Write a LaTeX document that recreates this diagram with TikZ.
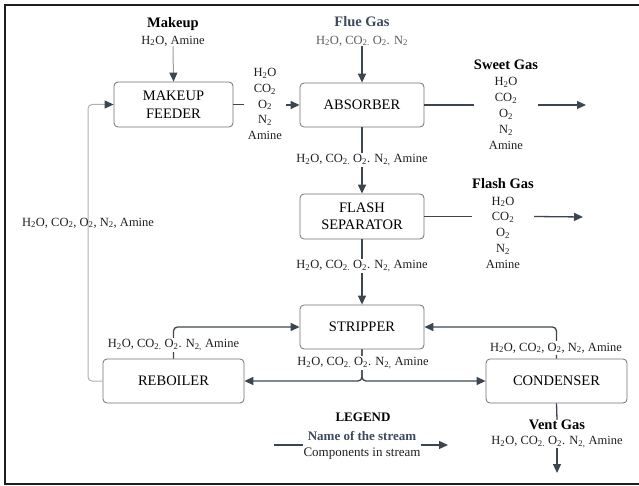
\documentclass[tikz,border=0pt]{standalone}
\usepackage{fontspec}
\setmainfont{Liberation Serif}
\usetikzlibrary{arrows.meta}
\definecolor{arr}{HTML}{3C4650}
\definecolor{boxc}{HTML}{707070}
\definecolor{slate}{HTML}{3D4A5C}
\definecolor{lgray}{HTML}{B0B0B0}
\definecolor{mgray}{HTML}{9A9A9A}
\definecolor{txtgray}{HTML}{5A5A5A}
\definecolor{framec}{HTML}{1E1E1E}
\newcommand{\sbs}[1]{\textsubscript{#1}}
\begin{document}
\begin{tikzpicture}[x=1pt,y=-1pt,
  unitbox/.style={draw=boxc, line width=0.8pt, rounded corners=4pt, align=center,
    font=\fontsize{14.5}{17.5}\selectfont, inner sep=0pt},
  tip/.style={-{Triangle[length=9pt,width=8pt,color=arr]}},
  flow/.style={draw=arr, line width=1.3pt, rounded corners=4pt, tip},
  plainline/.style={draw=arr, line width=1.3pt},
  comp/.style={font=\fontsize{12.5}{15.8}\selectfont, align=center, inner sep=0pt, text=black!88},
  stitle/.style={font=\bfseries\fontsize{14.5}{17}\selectfont, inner sep=0pt},
  lbl/.style={font=\fontsize{12.5}{15}\selectfont, inner sep=1.5pt, text=black!88},
  wlbl/.style={lbl, fill=white}]
\useasboundingbox (0,0) rectangle (639,486);
\clip (0,0) rectangle (639,486);
\draw[framec, line width=2.2pt] (650,5) -- (5,5) -- (5,484) -- (650,484);

% units
\node[unitbox, minimum width=119pt, minimum height=45pt] (feeder) at (173.5,104.5) {MAKEUP\\FEEDER};
\node[unitbox, minimum width=124pt, minimum height=44pt] (absorber) at (362,105) {ABSORBER};
\node[unitbox, minimum width=124pt, minimum height=45pt] (flash) at (362,216.5) {FLASH\\SEPARATOR};
\node[unitbox, minimum width=124pt, minimum height=44pt] (stripper) at (362,327) {STRIPPER};
\node[unitbox, minimum width=141pt, minimum height=44pt] (reboiler) at (173.5,381) {REBOILER};
\node[unitbox, minimum width=141pt, minimum height=44pt] (condenser) at (556.5,381) {CONDENSER};

% stream texts
\node[stitle] (makeupT) at (173,24) {Makeup};
\node[comp] (makeup) at (173,41) {H\sbs{2}O, Amine};
\node[stitle, text=slate] (flueT) at (362,22) {Flue Gas};
\node[comp, text=txtgray] (flue) at (362,41) {H\sbs{2}O, CO\sbs{2.} O\sbs{2}. N\sbs{2}};
\node[comp, inner xsep=4pt] (fa) at (265,104) {H\sbs{2}O\\CO\sbs{2}\\O\sbs{2}\\N\sbs{2}\\Amine};
\node[stitle] (sweetT) at (506,65) {Sweet Gas};
\node[comp] (sweet) at (506,113.4) {H\sbs{2}O\\CO\sbs{2}\\O\sbs{2}\\N\sbs{2}\\Amine};
\node[stitle] (flashT) at (503,184) {Flash Gas};
\node[comp] (flashg) at (503,232.6) {H\sbs{2}O\\CO\sbs{2}\\O\sbs{2}\\N\sbs{2}\\Amine};
\node[stitle] (ventT) at (557,425) {Vent Gas};
\node[comp] (vent) at (557,442) {H\sbs{2}O, CO\sbs{2.} O\sbs{2}. N\sbs{2,} Amine};
\node[stitle, font=\bfseries\fontsize{13}{15}\selectfont] (legendT) at (363,417) {LEGEND};
\node[comp, font=\fontsize{13}{16}\selectfont] (legend) at (362,445) {\textcolor{slate}{\bfseries Name of the stream}\\Components in stream};

\coordinate (sweetEnd) at (586,105);
\coordinate (flashEnd) at (583,217);
\coordinate (ventEnd) at (557,473);
\coordinate (legStart) at (274,445);
\coordinate (legEnd) at (448,445);
\coordinate (recycleX) at (88,381);

% connectors
\draw[mgray, line width=1pt, tip] (makeup.south) -- (feeder.north);
\draw[flow] (flue.south) -- (absorber.north);
\draw[plainline] (feeder.east) -- (feeder.east -| fa.west);
\draw[flow] (fa.east |- absorber.west) -- (absorber.west);
\draw[plainline] (absorber.east) -- (absorber.east -| sweetT.west);
\draw[flow] (absorber.east -| sweetT.east) -- (sweetEnd);
\draw[plainline] (flash.east) -- (flash.east -| flashT.west);
\draw[flow] (flash.east -| flashT.east) -- (flashEnd);
\draw[flow] (absorber.south) -- (flash.north);
\draw[flow] (flash.south) -- (stripper.north);
\draw[flow] (stripper.south) |- (reboiler.east);
\draw[flow] (stripper.south) |- (condenser.west);
\draw[flow] (reboiler.north) |- (stripper.west);
\draw[flow] (condenser.north) |- (stripper.east);
\draw[plainline] (condenser.south) -- (ventT.north);
\draw[flow] (vent.south) -- (ventEnd);
\draw[lgray, line width=1pt, rounded corners=4pt, tip] (reboiler.west) -- (recycleX) |- (feeder.west);
\draw[plainline] (legStart) -- (legStart -| legend.west);
\draw[flow] (legend.east |- legStart) -- (legEnd);

% stream labels on lines
\node[wlbl] (l1) at (362,160) {H\sbs{2}O, CO\sbs{2.} O\sbs{2}. N\sbs{2,} Amine};
\node[wlbl] (l2) at (362,266) {H\sbs{2}O, CO\sbs{2.} O\sbs{2}. N\sbs{2,} Amine};
\node[wlbl] (l3) at (363,363) {H\sbs{2}O, CO\sbs{2.} O\sbs{2}. N\sbs{2,} Amine};
\node[wlbl] (l4) at (173.5,345) {H\sbs{2}O, CO\sbs{2.} O\sbs{2}. N\sbs{2,} Amine};
\node[wlbl] (l5) at (556,348) {H\sbs{2}O, CO\sbs{2}, O\sbs{2}, N\sbs{2}, Amine};
\node[lbl] (l6) at (88,223) {H\sbs{2}O, CO\sbs{2}, O\sbs{2}, N\sbs{2}, Amine};
\end{tikzpicture}
\end{document}
